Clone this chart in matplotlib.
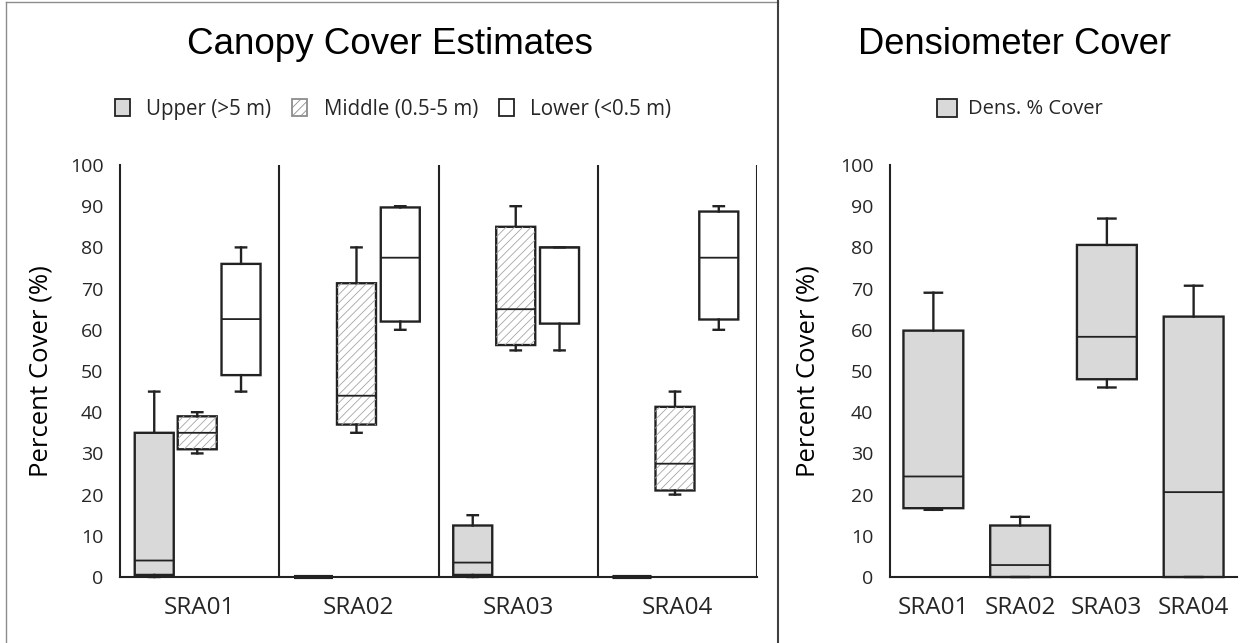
import matplotlib.pyplot as plt
from matplotlib.patches import PathPatch, Patch
from matplotlib.lines import Line2D

# Sites and box statistics (percent cover)
sites = ["SRA01", "SRA02", "SRA03", "SRA04"]

upper_min = [0, 0, 0, 0]
upper_q1 = [0.5, 0, 0.5, 0]
upper_med = [4, 0, 3.5, 0]
upper_q3 = [35, 0, 12.5, 0]
upper_max = [45, 0, 15, 0]

middle_min = [30, 35, 55, 20]
middle_q1 = [31, 37, 56.3, 21]
middle_med = [35, 44, 65, 27.5]
middle_q3 = [39, 71.3, 85, 41.3]
middle_max = [40, 80, 90, 45]

lower_min = [45, 60, 55, 60]
lower_q1 = [49, 62, 61.5, 62.5]
lower_med = [62.6, 77.5, 80, 77.5]
lower_q3 = [76, 89.7, 80, 88.7]
lower_max = [80, 90, 80, 90]

dens_min = [16.3, 0, 46, 0]
dens_q1 = [16.7, 0, 48, 0]
dens_med = [24.4, 2.9, 58.3, 20.6]
dens_q3 = [59.8, 12.5, 80.6, 63.2]
dens_max = [69, 14.6, 87, 70.7]

yticks = list(range(0, 101, 10))

EDGE = "#222222"
GRAY = "#d9d9d9"
TICK_FONT = "Open Sans"
TITLE_FONT = "Liberation Sans"
plt.rcParams["hatch.linewidth"] = 0.6
plt.rcParams["path.simplify"] = False


def make_stats(lo, q1, med, q3, hi):
    return [dict(whislo=a, q1=b, med=c, q3=d, whishi=e, fliers=[])
            for a, b, c, d, e in zip(lo, q1, med, q3, hi)]


def draw_boxes(ax, stats, positions, width, capw, face, hatch=None):
    bp = ax.bxp(stats, positions=positions, widths=width, capwidths=capw,
                patch_artist=True, showfliers=False,
                boxprops=dict(facecolor=face, edgecolor=EDGE, linewidth=1.7),
                whiskerprops=dict(color=EDGE, linewidth=1.7),
                capprops=dict(color=EDGE, linewidth=1.7),
                medianprops=dict(color=EDGE, linewidth=1.3),
                manage_ticks=False)
    for art in bp["boxes"] + bp["whiskers"] + bp["caps"] + bp["medians"]:
        art.set_clip_on(False)
        art.set_zorder(3)
        art.set_snap(False)
    for m in bp["medians"]:
        m.set_zorder(4)
    # flat boxes (all values equal) show as a heavy line on the baseline
    for b, s in zip(bp["medians"], stats):
        if s["q1"] == s["q3"]:
            b.set_linewidth(3)
            b.set_solid_capstyle("butt")
    if hatch:
        for b in bp["boxes"]:
            hp = PathPatch(b.get_path(), facecolor="none", edgecolor="#a6a6a6",
                           hatch=hatch, linewidth=0, zorder=3.5)
            ax.add_patch(hp)
    return bp


def style_axis(ax):
    ax.set_ylim(0, 100)
    ax.set_yticks(yticks)
    ax.spines["top"].set_visible(False)
    ax.spines["right"].set_visible(False)
    for s in ("left", "bottom"):
        ax.spines[s].set_color(EDGE)
        ax.spines[s].set_linewidth(1.5)
    ax.tick_params(axis="y", length=0, pad=12, labelsize=14, labelcolor="#262626")
    ax.tick_params(axis="x", length=0, pad=14, labelsize=17.5, labelcolor="#262626")
    for lab in ax.get_yticklabels() + ax.get_xticklabels():
        lab.set_fontfamily(TICK_FONT)
    ax.set_ylabel("Percent Cover (%)", fontsize=18.5, family=TICK_FONT, color="black")


fig = plt.figure(figsize=(12.5, 6.43), dpi=100)

# ---- left panel: canopy cover estimates
ax1 = fig.add_axes([120 / 1250, 1 - 577 / 643, 637 / 1250, 412 / 643])
centers = [i + 0.5 for i in range(len(sites))]
offsets = [-0.285, -0.015, 0.26]
bw = 0.245
draw_boxes(ax1, make_stats(upper_min, upper_q1, upper_med, upper_q3, upper_max),
           [c + offsets[0] for c in centers], bw, 0.065, GRAY)
draw_boxes(ax1, make_stats(middle_min, middle_q1, middle_med, middle_q3, middle_max),
           [c + offsets[1] for c in centers], bw, 0.065, "white", hatch="////")
draw_boxes(ax1, make_stats(lower_min, lower_q1, lower_med, lower_q3, lower_max),
           [c + offsets[2] for c in centers], bw, 0.065, "white")
ax1.vlines(range(1, len(sites) + 1), 0, 100, color=EDGE, linewidth=1.5)
ax1.set_xlim(0, len(sites))
ax1.set_xticks(centers)
ax1.set_xticklabels(sites)
style_axis(ax1)
ax1.yaxis.set_label_coords(-0.105, 0.5)

# ---- right panel: densiometer cover
ax2 = fig.add_axes([890 / 1250, 1 - 577 / 643, 347 / 1250, 412 / 643])
pos2 = [i + 0.5 for i in range(len(sites))]
draw_boxes(ax2, make_stats(dens_min, dens_q1, dens_med, dens_q3, dens_max),
           pos2, 0.69, 0.2, GRAY)
ax2.set_xlim(0, len(sites))
ax2.set_xticks(pos2)
ax2.set_xticklabels(sites)
style_axis(ax2)
ax2.yaxis.set_label_coords(-0.2, 0.5)

# ---- titles
fig.text(390 / 1250, 1 - 44 / 643, "Canopy Cover Estimates", ha="center", va="center",
         fontsize=26.5, family=TITLE_FONT)
fig.text(1014 / 1250, 1 - 44 / 643, "Densiometer Cover", ha="center", va="center",
         fontsize=26.2, family=TITLE_FONT)

# ---- legends
h_upper = Patch(facecolor=GRAY, edgecolor=EDGE, linewidth=1.3)
h_mid = Patch(facecolor="white", edgecolor="#8c8c8c", hatch="////", linewidth=1.3)
h_low = Patch(facecolor="white", edgecolor=EDGE, linewidth=1.3)
leg1 = fig.legend([h_upper, h_mid, h_low],
                  ["Upper (>5 m)", "Middle (0.5-5 m)", "Lower (<0.5 m)"],
                  loc="center", bbox_to_anchor=(393 / 1250, 1 - 109 / 643), ncol=3,
                  frameon=False, handlelength=0.75, handleheight=0.85,
                  handletextpad=0.8, columnspacing=1.0,
                  prop=dict(family=TICK_FONT, size=14.8))
leg2 = fig.legend([Patch(facecolor=GRAY, edgecolor=EDGE, linewidth=1.3)],
                  ["Dens. % Cover"], loc="center",
                  bbox_to_anchor=(1020 / 1250, 1 - 109 / 643), frameon=False,
                  handlelength=1.0, handleheight=1.0, handletextpad=0.55,
                  prop=dict(family=TICK_FONT, size=14.5))
for t in leg1.get_texts() + leg2.get_texts():
    t.set_color("#262626")

# ---- panel borders
fig.add_artist(Line2D([6 / 1250, 6 / 1250], [0, 1 - 2 / 643], color="#8c8c8c", lw=1))
fig.add_artist(Line2D([6 / 1250, 778 / 1250], [1 - 2 / 643, 1 - 2 / 643], color="#8c8c8c", lw=1))
fig.add_artist(Line2D([778 / 1250, 778 / 1250], [0, 1], color="#404040", lw=1.5))

fig.savefig("out.png", dpi=100)
